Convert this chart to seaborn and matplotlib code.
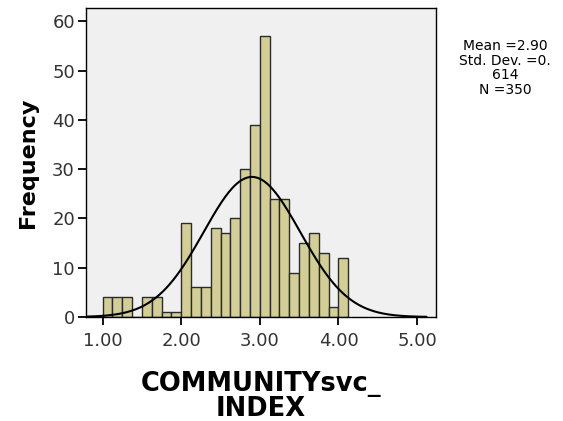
# SPSS-style histogram of COMMUNITYsvc_INDEX with normal curve

import numpy as np
import pandas as pd
import seaborn as sns
import matplotlib.pyplot as plt

bin_start = 1.0
bin_width = 0.125
counts = [4, 4, 4, 0, 4, 4, 1, 1, 19, 6, 6, 18, 17, 20, 30, 39, 57,
          24, 24, 9, 15, 17, 13, 2, 12]
mean_val = 2.90
sd_val = 0.614
n_val = 350

bin_end = bin_start + bin_width * len(counts)
centers = bin_start + bin_width * (np.arange(len(counts)) + 0.5)
df = pd.DataFrame({'value': centers, 'count': counts})

sns.set_style('ticks')
plt.rcParams['font.family'] = ['DejaVu Sans']
plt.rcParams['text.color'] = 'black'
plt.rcParams['axes.labelcolor'] = 'black'

fig = plt.figure(figsize=(5.63, 4.21), dpi=100)
ax = fig.add_axes([0.1528, 0.247, 0.6216, 0.734])
ax.set_facecolor('#f0f0f0')

sns.histplot(data=df, x='value', weights='count', binwidth=bin_width,
             binrange=(bin_start, bin_end), ax=ax,
             color='#d3ce97', edgecolor='#2b2b2b', linewidth=1.0, alpha=1)

xs = np.linspace(0.8, 5.12, 300)
ys = n_val * bin_width / (sd_val * np.sqrt(2 * np.pi)) * np.exp(-0.5 * ((xs - mean_val) / sd_val) ** 2)
sns.lineplot(x=xs, y=ys, ax=ax, color='black', linewidth=1.5)

ax.set_xlim(0.79, 5.24)
ax.set_ylim(0, 62.7)
ax.set_xticks([1, 2, 3, 4, 5])
ax.set_xticklabels(['%.2f' % t for t in [1, 2, 3, 4, 5]])
ax.set_yticks(range(0, 61, 10))
ax.tick_params(axis='both', labelsize=13, length=6, width=1.3, color='black', labelcolor='#333333')
ax.tick_params(axis='x', pad=5)
ax.tick_params(axis='y', pad=2)

for s in ax.spines.values():
    s.set_visible(True)
    s.set_color('black')
    s.set_linewidth(1.0)

ax.set_xlabel('COMMUNITYsvc_\nINDEX', fontsize=18.5, fontweight='bold', linespacing=0.95, labelpad=15)
ax.set_ylabel('Frequency', fontsize=16, fontweight='bold', labelpad=10)

fig.text(505 / 563, 1 - 39 / 421, 'Mean =2.90\nStd. Dev. =0.\n614\nN =350',
         ha='center', va='top', fontsize=10, linespacing=1.05)

plt.savefig('out.png', dpi=100)
